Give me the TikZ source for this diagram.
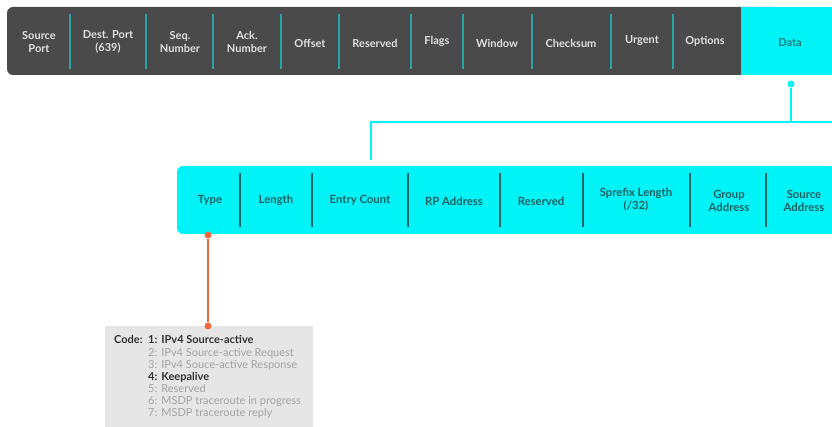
\documentclass[tikz,border=0pt]{standalone}
\usepackage{fontspec}
\setmainfont{Lato}
\definecolor{darkbar}{HTML}{4A4A4A}
\definecolor{cyanbar}{HTML}{00F4F7}
\definecolor{tealdiv}{HTML}{2AA5A6}
\definecolor{dtealdiv}{HTML}{1F6668}
\definecolor{cyantxt}{HTML}{1D5E60}
\definecolor{orangeln}{HTML}{F0683C}
\definecolor{boxgray}{HTML}{E6E6E6}
\definecolor{codegray}{HTML}{A3A3A3}
\definecolor{codedark}{HTML}{333333}
\tikzset{
  toplbl/.style={font=\bfseries\fontsize{11}{13}\selectfont, text=white!88!black, align=center, inner sep=0},
  cylbl/.style={font=\bfseries\fontsize{11.3}{13}\selectfont, text=cyantxt, align=center, inner sep=0},
  topdiv/.style={draw=tealdiv, line width=1.6pt},
  cydiv/.style={draw=dtealdiv, line width=1.4pt},
  dot/.style={circle, inner sep=0, minimum size=7pt},
  cyconn/.style={draw=cyanbar, line width=1.6pt},
  orconn/.style={draw=orangeln, line width=1.3pt},
  codeln/.style={font=\fontsize{11}{12}\selectfont, text=codegray, anchor=base west, inner sep=0},
  codebold/.style={font=\bfseries\fontsize{11}{12}\selectfont, text=codedark, anchor=base west, inner sep=0},
}
\begin{document}
\begin{tikzpicture}[x=1pt,y=-1pt]
\useasboundingbox (0,0) rectangle (832,427);
% top bar
\fill[darkbar, rounded corners=6pt] (7,7) rectangle (780,75);
\fill[cyanbar] (741,7) rectangle (832,75);
\foreach \x in {70,146,213,281,339,411,463,532,611,673}
  \draw[topdiv] (\x,14) -- (\x,69);
\node[toplbl] (sp) at (39,42) {Source\\Port};
\node[toplbl] (dp) at (108,42) {Dest. Port\\(639)};
\node[toplbl] (sq) at (180,42) {Seq.\\Number};
\node[toplbl] (ak) at (247,42) {Ack.\\Number};
\node[toplbl] (of) at (310,43) {Offset};
\node[toplbl] (rs) at (375,43) {Reserved};
\node[toplbl] (fl) at (437,41) {Flags};
\node[toplbl] (wi) at (497,43) {Window};
\node[toplbl] (ck) at (571,43) {Checksum};
\node[toplbl] (ur) at (642,41) {Urgent};
\node[toplbl] (op) at (705,41) {Options};
\node[cylbl, font=\bfseries\fontsize{11}{13}\selectfont, text=tealdiv!75!black] (da) at (790,43) {Data};
% cyan connector
\node[dot, fill=cyanbar] (d1) at (791,84) {};
\coordinate (c1) at (791,122);
\coordinate (c2) at (371,122);
\coordinate (c3) at (371,160);
\coordinate (c0) at (832,122);
\draw[cyconn] (d1) -- (c1) -- (c2) -- (c3);
\draw[cyconn] (c1) -- (c0);
% second bar
\fill[cyanbar, rounded corners=6pt] (177,166) rectangle (832,234);
\fill[cyanbar] (815,166) rectangle (832,234);
\foreach \x in {240,312,408,500,583,690,766}
  \draw[cydiv] (\x,173) -- (\x,227);
\node[cylbl] (ty) at (210,200) {Type};
\node[cylbl] (le) at (276,200) {Length};
\node[cylbl] (ec) at (360,200) {Entry Count};
\node[cylbl] (rp) at (454,201) {RP Address};
\node[cylbl] (re) at (541,201) {Reserved};
\node[cylbl] (sl) at (636,200) {Sprefix Length\\(/32)};
\node[cylbl] (ga) at (729,201) {Group\\Address};
\node[cylbl] (sa) at (804,201) {Source\\Address};
% code box
\fill[boxgray] (105,326) rectangle (313,427);
\node[dot, fill=orangeln] (o1) at (208,235) {};
\node[dot, fill=orangeln] (o2) at (208,326) {};
\draw[orconn] (o1) -- (o2);
\node[codebold] (cd) at (114,344) {Code:};
\node[codebold] (l1) at (148,344) {1:\hspace{4pt}IPv4 Source-active};
\node[codeln] (l2) at (148,356) {2:\hspace{4pt}IPv4 Source-active Request};
\node[codeln] (l3) at (148,368) {3:\hspace{4pt}IPv4 Souce-active Response};
\node[codebold] (l4) at (148,380) {4:\hspace{4pt}Keepalive};
\node[codeln] (l5) at (148,392) {5:\hspace{4pt}Reserved};
\node[codeln] (l6) at (148,404) {6:\hspace{4pt}MSDP traceroute in progress};
\node[codeln] (l7) at (148,416) {7:\hspace{4pt}MSDP traceroute reply};
\end{tikzpicture}
\end{document}
